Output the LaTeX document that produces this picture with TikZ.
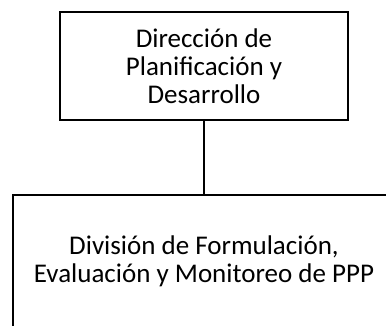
\documentclass[tikz,border=0pt]{standalone}
\usepackage{fontspec}
\setmainfont{Carlito}
\begin{document}
\begin{tikzpicture}[x=1pt,y=-1pt,
  box/.style={draw=black,line width=2.3pt,align=center,inner sep=0pt,
    font=\fontsize{27}{28}\selectfont},
  link/.style={draw=black,line width=2.3pt}]
\useasboundingbox (0,0) rectangle (386,325);
\clip (0,0) rectangle (386,325);
\node[box,minimum width=288pt,minimum height=108pt] (dir) at (204,66)
  {Dirección de\\Planificación y\\Desarrollo};
\node[box,minimum width=382pt,minimum height=132pt] (div) at (204,261)
  {División de Formulación,\\Evaluación y Monitoreo de PPP};
\draw[link] (dir.south) -- (div.north);
\end{tikzpicture}
\end{document}
